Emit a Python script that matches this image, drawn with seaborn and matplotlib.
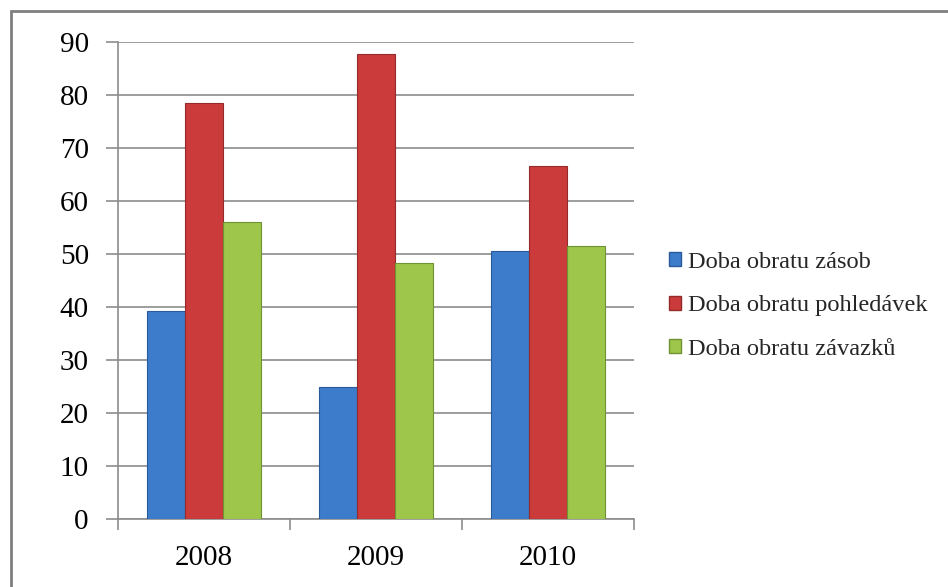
import matplotlib
matplotlib.use("Agg")
import matplotlib.pyplot as plt
import seaborn as sns
import pandas as pd
from matplotlib.patches import Rectangle

years = ["2008", "2009", "2010"]
series = ["Doba obratu zásob", "Doba obratu pohledávek", "Doba obratu závazků"]
zasob = [39.2, 24.9, 50.6]
pohledavek = [78.5, 87.7, 66.6]
zavazku = [56.0, 48.3, 51.6]
yticks = [0, 10, 20, 30, 40, 50, 60, 70, 80, 90]
colors = ["#3D7CCB", "#CC3B3B", "#9DC64B"]
edges = ["#2A5A9A", "#952A2A", "#6F9232"]

df = pd.DataFrame({
    "year": years * 3,
    "series": [series[0]] * 3 + [series[1]] * 3 + [series[2]] * 3,
    "value": zasob + pohledavek + zavazku,
})

sns.set_theme(style="white")
plt.rcParams["font.family"] = ["Liberation Serif", "DejaVu Serif"]

fig = plt.figure(figsize=(9.48, 5.87), dpi=100)
ax = fig.add_axes([118 / 948, 1 - 519 / 587, (634 - 118) / 948, (519 - 42) / 587])

sns.barplot(data=df, x="year", y="value", hue="series", hue_order=series,
            palette=colors, width=0.665, ax=ax, saturation=1, zorder=3)

for i, cont in enumerate(ax.containers):
    for p in cont:
        p.set_edgecolor(edges[i])
        p.set_linewidth(0.8)

ax.set_ylim(0, 90)
ax.set_xlim(-0.5, 2.5)
ax.set_yticks(yticks)
ax.set_yticklabels([str(t) for t in yticks])
ax.yaxis.grid(True, color="#8C8C8C", linewidth=1.2, zorder=0)
ax.set_axisbelow(True)
ax.set_xlabel("")
ax.set_ylabel("")

for s in ["top", "right"]:
    ax.spines[s].set_visible(False)
for s in ["left", "bottom"]:
    ax.spines[s].set_visible(True)
    ax.spines[s].set_color("#8C8C8C")
    ax.spines[s].set_linewidth(1.2)

ax.tick_params(axis="y", which="major", left=True, length=9, width=1.2,
               color="#8C8C8C", labelsize=21, pad=12, direction="out")
ax.tick_params(axis="x", which="major", bottom=False, labelsize=21, pad=13)
ax.set_xticks([0, 1, 2])
ax.set_xticklabels(years)
ax.set_xticks([-0.5, 0.5, 1.5, 2.5], minor=True)
ax.tick_params(axis="x", which="minor", bottom=True, length=8, width=1.2,
               color="#8C8C8C", direction="out")
for lab in ax.get_yticklabels() + ax.get_xticklabels():
    lab.set_color("black")

leg = ax.legend(loc="center left", bbox_to_anchor=(1.034, 0.447), frameon=False,
                fontsize=17.6, handlelength=0.5, handleheight=0.5,
                handletextpad=0.3, labelspacing=0.92, borderaxespad=0.3)
for h, c in zip(leg.legend_handles, edges):
    h.set_edgecolor(c)

fig.patches.append(Rectangle((11 / 948, -0.05), 1.1, 1 - 11 / 587 + 0.05,
                             transform=fig.transFigure, fill=False,
                             edgecolor="#7F7F7F", linewidth=2.0))

fig.savefig("out.png", dpi=100)
